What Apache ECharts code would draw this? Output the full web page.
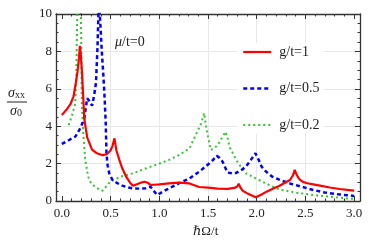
<!DOCTYPE html>
<html><head><meta charset="utf-8">
<script src="https://cdn.jsdelivr.net/npm/echarts@6/dist/echarts.min.js"></script>
<style>html,body{margin:0;padding:0;background:#fff}#c{width:374px;height:249px}</style>
</head><body><div id="c"></div>
<script>
// ---- data ----
const seriesNames = ['g/t=1', 'g/t=0.5', 'g/t=0.2'];
const redX = [0.00,0.05,0.09,0.12,0.14,0.16,0.175,0.185,0.195,0.205,0.22,0.23,0.26,0.31,0.36,0.42,0.46,0.50,0.52,0.54,0.56,0.59,0.62,0.66,0.70,0.73,0.77,0.81,0.85,0.88,0.91,0.95,1.0,1.1,1.2,1.31,1.41,1.5,1.6,1.7,1.77,1.80,1.815,1.835,1.855,1.9,1.95,1.99,2.05,2.1,2.17,2.23,2.29,2.34,2.37,2.39,2.41,2.44,2.47,2.52,2.58,2.65,2.75,2.85,2.95,3.0];
const redY = [4.6,4.9,5.2,5.6,6.2,6.9,7.6,8.3,7.8,7.0,5.5,4.4,3.4,2.75,2.55,2.45,2.5,2.7,2.95,3.35,2.7,2.2,1.75,1.3,0.98,0.82,0.9,0.98,1.03,0.98,0.86,0.87,0.89,0.94,0.98,0.94,0.75,0.72,0.66,0.65,0.7,0.78,0.92,0.7,0.55,0.42,0.3,0.2,0.35,0.5,0.67,0.8,0.98,1.12,1.35,1.66,1.4,1.15,1.03,0.95,0.89,0.82,0.72,0.64,0.58,0.55];
const blueX = [0.00,0.07,0.14,0.19,0.23,0.26,0.29,0.31,0.33,0.35,0.365,0.376,0.385,0.40,0.41,0.425,0.44,0.45,0.458,0.47,0.486,0.52,0.57,0.62,0.68,0.73,0.8,0.86,0.91,0.94,0.98,1.02,1.07,1.13,1.2,1.31,1.41,1.5,1.55,1.59,1.62,1.65,1.68,1.70,1.75,1.79,1.84,1.89,1.94,1.987,2.02,2.05,2.1,2.16,2.25,2.34,2.45,2.58,2.7,2.85,3.0];
const blueY = [3.05,3.25,3.45,3.9,4.4,5.5,5.3,5.1,5.6,6.3,8.1,10.2,10.4,9.0,8.0,6.8,5.4,4.2,2.55,1.9,1.48,1.12,0.95,0.82,0.72,0.68,0.66,0.68,0.77,0.55,0.32,0.45,0.59,0.75,0.94,1.21,1.57,1.95,2.19,2.42,2.3,2.1,1.75,1.52,1.48,1.5,1.65,1.84,2.2,2.55,2.2,1.84,1.55,1.3,1.1,0.94,0.78,0.59,0.45,0.35,0.27];
const greenX = [0.07,0.10,0.137,0.148,0.155,0.16,0.175,0.195,0.2,0.205,0.22,0.24,0.27,0.30,0.34,0.38,0.42,0.44,0.48,0.53,0.6,0.73,0.85,1.0,1.1,1.2,1.31,1.38,1.43,1.46,1.48,1.50,1.53,1.56,1.60,1.65,1.68,1.70,1.72,1.76,1.79,1.84,1.89,1.99,2.13,2.23,2.4,2.58,2.8,3.0];
const greenY = [4.06,4.5,5.2,6.5,9.0,10.5,12,10.5,8.0,5.2,3.6,2.2,1.3,0.95,0.76,0.63,0.55,0.6,0.94,1.12,1.3,1.48,1.72,2.0,2.2,2.45,2.82,3.6,4.15,4.7,4.0,3.44,2.73,2.8,3.0,3.44,3.7,3.4,2.9,2.5,2.19,1.8,1.48,1.21,0.85,0.62,0.45,0.32,0.2,0.11];
const xTicks = [0.0,0.5,1.0,1.5,2.0,2.5,3.0];
const xMinorTicks = [0.1,0.2,0.3,0.4,0.6,0.7,0.8,0.9,1.1,1.2,1.3,1.4,1.6,1.7,1.8,1.9,2.1,2.2,2.3,2.4,2.6,2.7,2.8,2.9];
const xGrid = [0.5,1.0,1.5,2.0,2.5];
const yGrid = [2,4,6,8];
const X_MIN = -0.06, X_MAX = 3.06, Y_MIN = 0, Y_MAX = 10, Y_STEP = 2;

function pairs(xs, ys){ return xs.map((x,i)=>[x, ys[i]]); }

const FRAME = '#333';
const SERIF = '"Liberation Serif", "DejaVu Serif", serif';
const styles = [
  {color:'#ff0000', width:2.2, type:'solid'},
  {color:'#0000ff', width:2.5, type:[4,3]},
  {color:'#33c633', width:2, type:[2,3]}
];
function xAx(pos, custom, len, labels, line){
  return {
    type:'value', position:pos, min:X_MIN, max:X_MAX,
    axisLine:{show:line, onZero:false, lineStyle:{color:FRAME, width:1.3}},
    axisTick:{show:true, inside:true, length:len, customValues:custom, lineStyle:{color:FRAME, width:1}},
    axisLabel:{show:labels, customValues:custom, margin:6, color:'#222', fontFamily:SERIF, fontSize:13,
      formatter:(v)=>v.toFixed(1)},
    splitLine:{show:false}
  };
}
function yAx(pos, labels){
  return {
    type:'value', position:pos, min:Y_MIN, max:Y_MAX, interval:Y_STEP,
    axisLine:{show:true, onZero:false, lineStyle:{color:FRAME, width:1.3}},
    axisTick:{show:true, inside:true, length:5, lineStyle:{color:FRAME, width:1}},
    minorTick:{show:true, splitNumber:4, length:2.5, lineStyle:{color:FRAME, width:1}},
    axisLabel:{show:labels, margin:4, color:'#222', fontFamily:SERIF, fontSize:13},
    splitLine:{show:false}
  };
}

const chart = echarts.init(document.getElementById('c'), null, {renderer:'canvas'});
const gridSeries = {
  type:'line', name:'__grid', data:[], z:0, silent:true,
  markLine:{
    silent:true, symbol:'none', animation:false, label:{show:false}, z:0,
    lineStyle:{color:'#e8e8e8', type:'solid', width:1},
    data: xGrid.map(v=>({xAxis:v})).concat(yGrid.map(v=>({yAxis:v})))
  }
};
chart.setOption({
  animation:false,
  backgroundColor:'#fff',
  grid:{left:56, right:14, top:14, bottom:48, containLabel:false},
  xAxis:[
    xAx('bottom', xTicks, 5, true, true),
    xAx('bottom', xMinorTicks, 2.5, false, false),
    xAx('top', xTicks, 5, false, true),
    xAx('top', xMinorTicks, 2.5, false, false)
  ],
  yAxis:[ yAx('left', true), yAx('right', false) ],
  legend:{
    orient:'vertical', left:237, top:43, itemWidth:28, itemHeight:14, itemGap:22.5,
    padding:[2,4,2,5], backgroundColor:'#fff', z:10,
    itemStyle:{opacity:0},
    textStyle:{fontFamily:SERIF, fontSize:14, color:'#222', padding:[0,0,0,3]},
    data:seriesNames.map((n,i)=>({name:n, lineStyle:{color:styles[i].color, width:styles[i].width, type:styles[i].type}}))
  },
  series:[gridSeries].concat(seriesNames.map((n,i)=>{
    const xs=[redX,blueX,greenX][i], ys=[redY,blueY,greenY][i];
    return {name:n, type:'line', data:pairs(xs, ys), showSymbol:false, symbol:'none',
      lineStyle:{color:styles[i].color, width:styles[i].width, type:styles[i].type},
      itemStyle:{color:styles[i].color}, z:4-i};
  })),
  graphic:[
    {type:'text', left:8, top:86, style:{text:'{s|σ}{b|xx}', rich:{s:{fontFamily:SERIF, fontStyle:'italic', fontSize:14, fill:'#222'}, b:{fontFamily:SERIF, fontSize:10, fill:'#222', padding:[5,0,0,0]}}}},
    {type:'line', shape:{x1:7, y1:102, x2:27, y2:102}, style:{stroke:'#222', lineWidth:1}},
    {type:'text', left:10, top:104, style:{text:'{s|σ}{b|0}', rich:{s:{fontFamily:SERIF, fontStyle:'italic', fontSize:14, fill:'#222'}, b:{fontFamily:SERIF, fontSize:10, fill:'#222', padding:[5,0,0,0]}}}},
    {type:'text', left:115, top:35, style:{text:'{m|μ}{n|/t=0}', rich:{m:{fontFamily:SERIF, fontStyle:'italic', fontSize:14, fill:'#222'}, n:{fontFamily:SERIF, fontSize:14, fill:'#222'}}}},
    {type:'text', left:193, top:225, style:{text:'{h|ℏ}{n|Ω/t}', rich:{h:{fontFamily:SERIF, fontStyle:'italic', fontSize:13, fill:'#222'}, n:{fontFamily:SERIF, fontSize:13, fill:'#222'}}}}
  ]
});
</script></body></html>
